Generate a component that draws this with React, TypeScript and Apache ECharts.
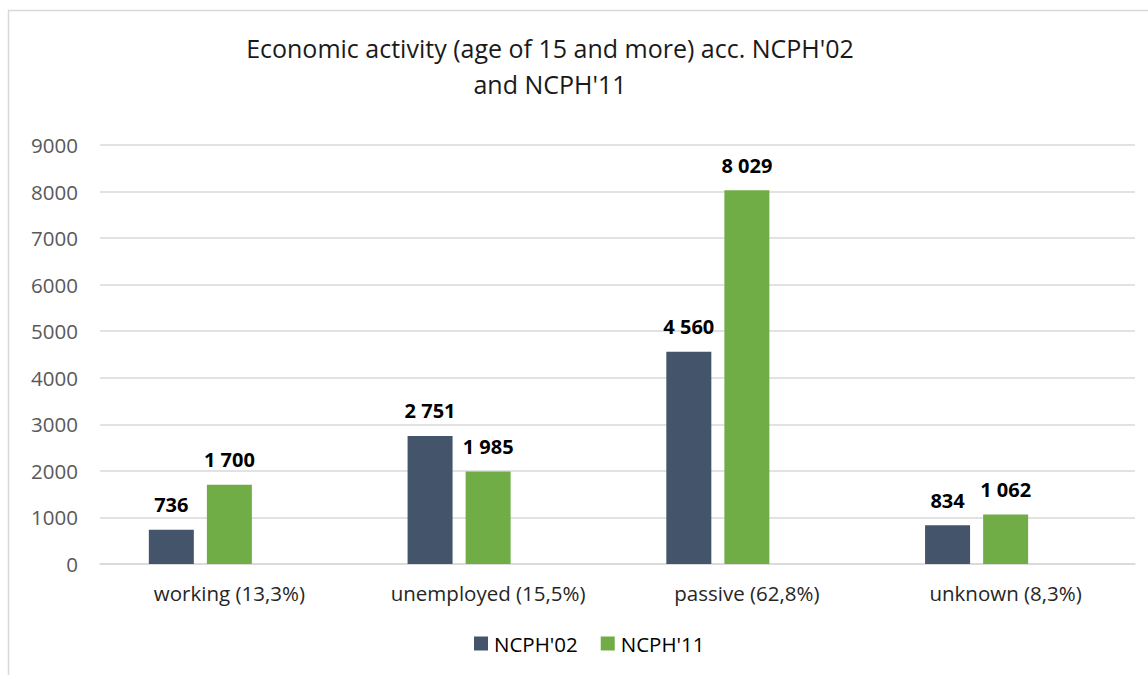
import React, { useEffect, useRef } from "react";
import * as echarts from "echarts";

const categories = ["working (13,3%)", "unemployed (15,5%)", "passive (62,8%)", "unknown (8,3%)"];
const seriesNames = ["NCPH'02", "NCPH'11"];
const values02 = [736, 2751, 4560, 834];
const values11 = [1700, 1985, 8029, 1062];
const yTicks = { min: 0, max: 9000, interval: 1000 };
const titleLines = ["Economic activity (age of 15 and more) acc. NCPH'02", "and NCPH'11"];

const FONT = "'Open Sans', 'Noto Sans', sans-serif";

function fmt(v: number): string {
  return String(v).replace(/\B(?=(\d{3})+(?!\d))/g, " ");
}

export default function App() {
  const ref = useRef<HTMLDivElement>(null);
  useEffect(() => {
    document.body.style.margin = "0";
    if (!ref.current) return;
    const chart = echarts.init(ref.current, null, { renderer: "svg" });
    const label = {
      show: true,
      position: "top",
      distance: 15,
      fontFamily: FONT,
      fontSize: 20,
      fontWeight: "bold",
      color: "#000",
      formatter: (p: any) => fmt(p.value),
    };
    const titleStyle = {
      fontFamily: FONT,
      fontSize: 25,
      fill: "#1a1a1a",
      align: "center",
      verticalAlign: "middle",
    };
    chart.setOption({
      animation: false,
      backgroundColor: "#fff",
      graphic: [
        {
          type: "rect",
          shape: { x: 8.5, y: 10.5, width: 1200, height: 700 },
          style: { fill: "none", stroke: "#d9d9d9", lineWidth: 1.5 },
          silent: true,
        },
        { type: "text", x: 550, y: 48, style: { ...titleStyle, text: titleLines[0] } },
        { type: "text", x: 550, y: 84, style: { ...titleStyle, text: titleLines[1] } },
      ],
      legend: {
        data: seriesNames,
        left: 474,
        top: 633,
        padding: 0,
        icon: "rect",
        itemWidth: 14,
        itemHeight: 14,
        itemGap: 23,
        textStyle: { fontFamily: FONT, fontSize: 20.5, color: "#000", padding: [0, 0, 0, 1] },
      },
      grid: { left: 100, right: 13, top: 145, bottom: 111, containLabel: false },
      xAxis: {
        type: "category",
        data: categories,
        axisLine: { lineStyle: { color: "#d9d9d9", width: 1.5 } },
        axisTick: { show: false },
        axisLabel: { fontFamily: FONT, fontSize: 20.5, color: "#262626", margin: 18 },
      },
      yAxis: {
        type: "value",
        min: yTicks.min,
        max: yTicks.max,
        interval: yTicks.interval,
        axisLine: { show: false },
        axisTick: { show: false },
        axisLabel: {
          fontFamily: FONT,
          fontSize: 20.5,
          color: "#595959",
          margin: 22,
          formatter: (v: number) => String(v),
        },
        splitLine: { lineStyle: { color: "#d9d9d9", width: 1.5 } },
      },
      series: [
        {
          name: seriesNames[0],
          type: "bar",
          data: values02,
          barWidth: 45,
          barGap: "29%",
          itemStyle: { color: "#44546a" },
          label,
        },
        {
          name: seriesNames[1],
          type: "bar",
          data: values11,
          barWidth: 45,
          barGap: "29%",
          itemStyle: { color: "#70ad47" },
          label,
        },
        {
          name: "_empty",
          type: "bar",
          data: [],
          barWidth: 45,
          barGap: "29%",
        },
      ],
    });
    return () => chart.dispose();
  }, []);
  return <div ref={ref} style={{ position: "fixed", left: 0, top: 0, width: 1148, height: 675 }} />;
}
